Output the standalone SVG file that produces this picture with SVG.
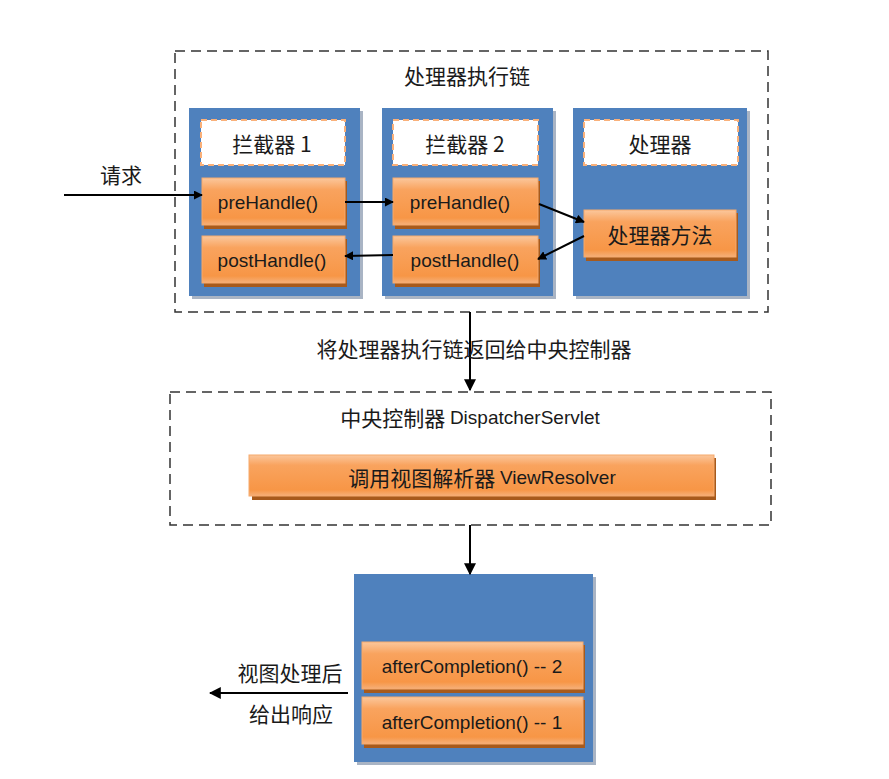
<svg xmlns="http://www.w3.org/2000/svg" width="889" height="779" viewBox="0 0 889 779">
<defs>
<linearGradient id="og" x1="0" y1="0" x2="0" y2="1">
<stop offset="0" stop-color="#FBC79C"/>
<stop offset="0.25" stop-color="#F9A35E"/>
<stop offset="0.85" stop-color="#F79646"/>
<stop offset="1" stop-color="#F5B07A"/>
</linearGradient>
<marker id="ah" viewBox="0 0 10 10" refX="9" refY="5" markerWidth="9" markerHeight="9" markerUnits="userSpaceOnUse" orient="auto">
<path d="M0,0 L10,5 L0,10 z" fill="#000"/>
</marker>
<marker id="ahb" viewBox="0 0 10 10" refX="9" refY="5" markerWidth="12" markerHeight="12" markerUnits="userSpaceOnUse" orient="auto">
<path d="M0,0 L10,5 L0,10 z" fill="#000"/>
</marker>
</defs>
<style>
.dash{fill:none;stroke:#333;stroke-width:1.5;stroke-dasharray:10,6}
.blue{fill:#4F81BD}
.bsh{fill:#A9B4C4}
.wbox{fill:#fff;stroke:#F9B07A;stroke-width:2;stroke-dasharray:6,4}
.ob{fill:url(#og);stroke:#F6A96C;stroke-width:1}
.osh{fill:#A75A1C}
.t{font-family:"Liberation Sans","Noto Sans CJK SC",sans-serif;font-size:19px;fill:#1a1a1a;text-anchor:middle;dominant-baseline:central}
.c{font-family:"Noto Sans CJK SC","Liberation Sans",sans-serif;font-size:21px;fill:#1a1a1a;text-anchor:middle;dominant-baseline:central}
.ln{stroke:#000;stroke-width:2;fill:none}
</style>
<rect width="889" height="779" fill="#fff"/>

<g id="chain">
<rect class="dash" x="175" y="51" width="593" height="261"/>
<text class="c" x="467" y="75">处理器执行链</text>
</g>

<g id="interceptor1">
<rect class="bsh" x="192" y="111" width="171" height="188"/>
<rect class="blue" x="189" y="108" width="171" height="188"/>
<rect class="wbox" x="201" y="120" width="144" height="45"/>
<text class="c" x="272" y="143">拦截器 1</text>
</g>
<g id="preHandle1">
<rect class="osh" x="204" y="181" width="143" height="48"/>
<rect class="ob" x="202" y="178" width="143" height="47"/>
<text class="t" x="268" y="202">preHandle()</text>
</g>
<g id="postHandle1">
<rect class="osh" x="204" y="239" width="143" height="48"/>
<rect class="ob" x="202" y="236" width="143" height="47"/>
<text class="t" x="272" y="260">postHandle()</text>
</g>

<g id="interceptor2">
<rect class="bsh" x="385" y="111" width="171" height="188"/>
<rect class="blue" x="382" y="108" width="171" height="188"/>
<rect class="wbox" x="393" y="120" width="145" height="45"/>
<text class="c" x="465" y="143">拦截器 2</text>
</g>
<g id="preHandle2">
<rect class="osh" x="395" y="181" width="145" height="48"/>
<rect class="ob" x="393" y="178" width="145" height="47"/>
<text class="t" x="460" y="202">preHandle()</text>
</g>
<g id="postHandle2">
<rect class="osh" x="395" y="239" width="145" height="48"/>
<rect class="ob" x="393" y="236" width="145" height="47"/>
<text class="t" x="465" y="260">postHandle()</text>
</g>

<g id="handler">
<rect class="bsh" x="576" y="111" width="174" height="188"/>
<rect class="blue" x="573" y="108" width="174" height="188"/>
<rect class="wbox" x="584" y="120" width="154" height="45"/>
<text class="c" x="660" y="143">处理器</text>
</g>
<g id="handlerMethod">
<rect class="osh" x="586" y="213" width="152" height="48"/>
<rect class="ob" x="584" y="210" width="152" height="47"/>
<text class="c" x="660" y="234">处理器方法</text>
</g>

<g id="dispatcher">
<rect class="dash" x="170" y="392" width="601" height="133"/>
<text class="t" x="470" y="417"><tspan font-family="Noto Sans CJK SC, sans-serif" font-size="21">中央控制器 </tspan>DispatcherServlet</text>
</g>
<g id="viewResolver">
<rect class="osh" x="252" y="458" width="464" height="42"/>
<rect class="ob" x="249" y="455" width="465" height="41"/>
<text class="t" x="482" y="477"><tspan font-family="Noto Sans CJK SC, sans-serif" font-size="21">调用视图解析器 </tspan>ViewResolver</text>
</g>

<g id="completion">
<rect class="bsh" x="357" y="577" width="239" height="188"/>
<rect class="blue" x="354" y="574" width="239" height="188"/>
</g>
<g id="afterCompletion2">
<rect class="osh" x="364" y="645" width="221" height="48"/>
<rect class="ob" x="362" y="642" width="221" height="47"/>
<text class="t" x="472" y="666">afterCompletion() -- 2</text>
</g>
<g id="afterCompletion1">
<rect class="osh" x="364" y="700" width="221" height="48"/>
<rect class="ob" x="362" y="697" width="221" height="47"/>
<text class="t" x="472" y="722">afterCompletion() -- 1</text>
</g>

<g id="connectors">
<line class="ln" x1="64" y1="195" x2="202" y2="195" marker-end="url(#ah)"/>
<text class="c" x="121" y="174">请求</text>
<line class="ln" x1="345" y1="202" x2="393" y2="202" marker-end="url(#ah)"/>
<line class="ln" x1="539" y1="204" x2="584" y2="222" marker-end="url(#ah)"/>
<line class="ln" x1="584" y1="236" x2="538" y2="259" marker-end="url(#ah)"/>
<line class="ln" x1="393" y1="255" x2="345" y2="256" marker-end="url(#ah)"/>
<line class="ln" x1="470" y1="312" x2="470" y2="390" marker-end="url(#ahb)"/>
<text class="c" x="474" y="348">将处理器执行链返回给中央控制器</text>
<line class="ln" x1="470" y1="525" x2="470" y2="574" marker-end="url(#ahb)"/>
<line class="ln" x1="348" y1="693" x2="210" y2="693" marker-end="url(#ahb)"/>
<text class="c" x="290" y="672">视图处理后</text>
<text class="c" x="291" y="713">给出响应</text>
</g>
</svg>
